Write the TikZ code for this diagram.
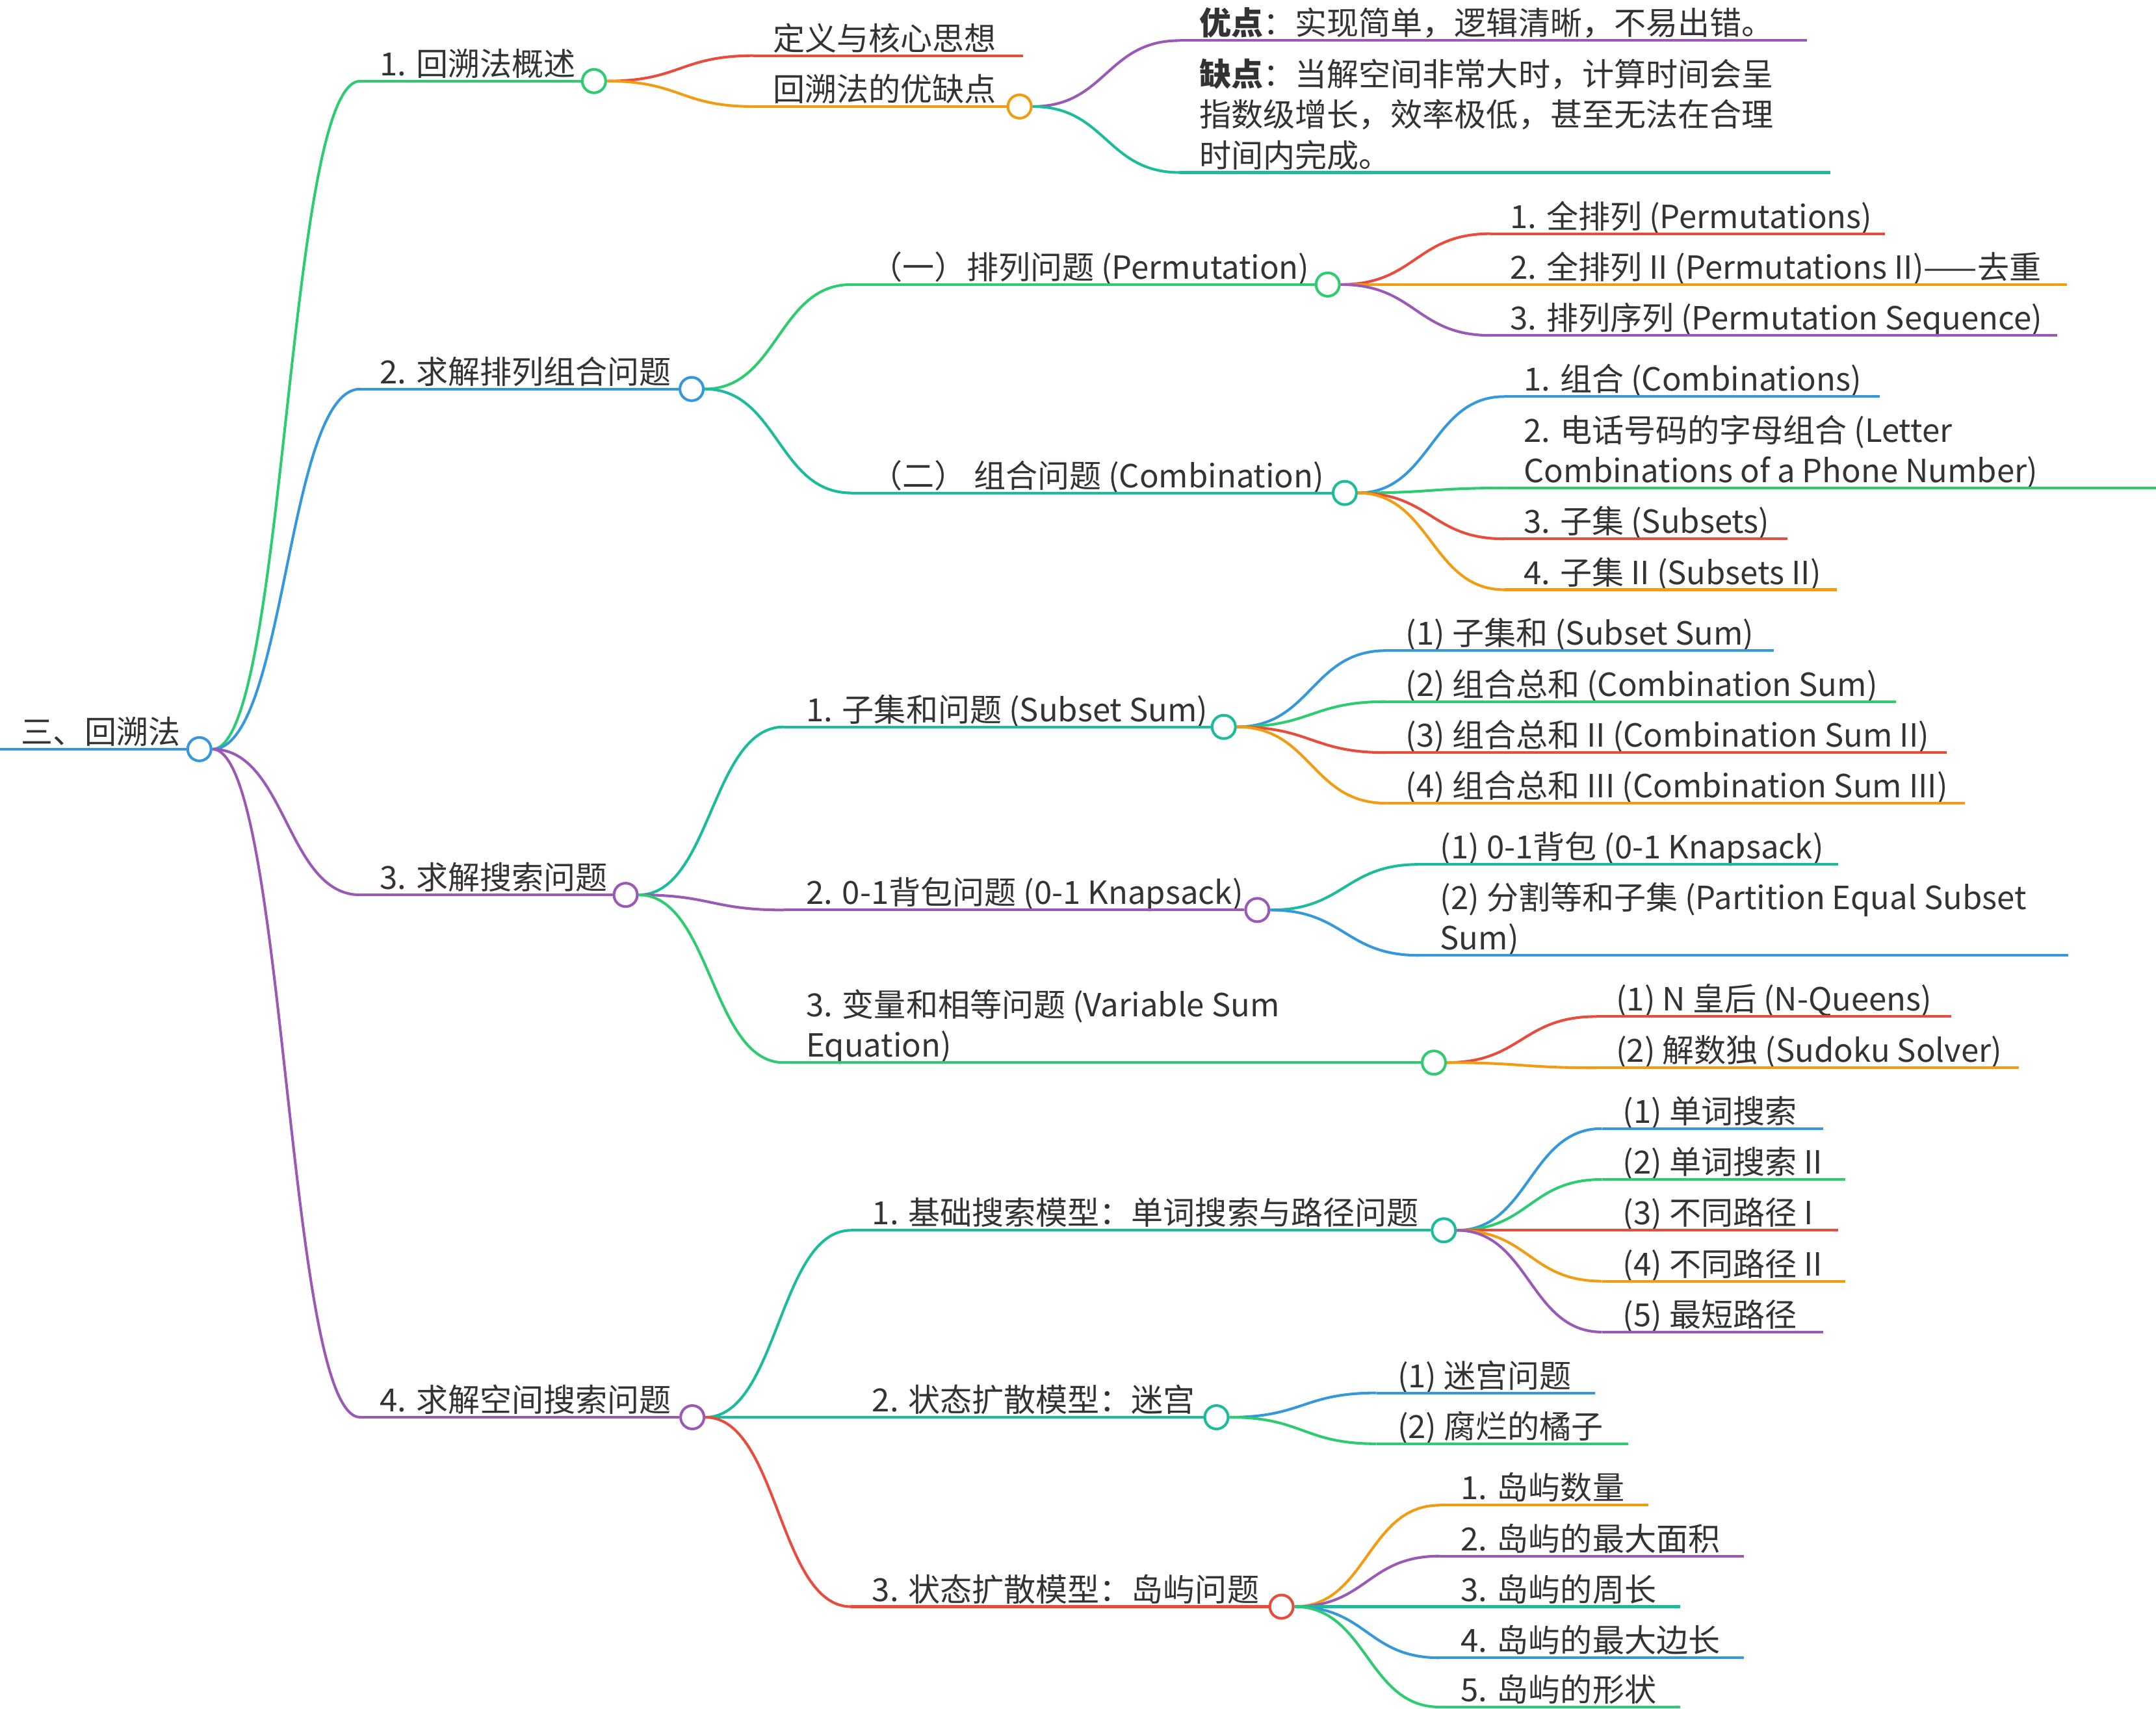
\documentclass[tikz,border=0pt]{standalone}
\usepackage{fontspec}
\setmainfont{Noto Sans CJK SC}
\usepackage{xcolor}
\usepackage{tikz}
\usetikzlibrary{calc}

\definecolor{ink}{HTML}{333333}
\definecolor{mmgreen}{HTML}{2ECC71}
\definecolor{mmteal}{HTML}{1ABC9C}
\definecolor{mmblue}{HTML}{3498DB}
\definecolor{mmpurple}{HTML}{9B59B6}
\definecolor{mmred}{HTML}{E74C3C}
\definecolor{mmorange}{HTML}{F39C12}

\begin{document}
\begin{tikzpicture}[
  x=0.02cm, y=-0.02cm,
  txt/.style={
    anchor=base west,
    inner sep=0pt,
    text=ink,
    font=\fontsize{13.2}{16.7}\selectfont
  },
  txtml/.style={txt, align=left},
  dot/.style={
    circle,
    draw,
    fill=white,
    line width=1.1pt,
    minimum size=0.34cm,
    inner sep=0pt
  },
  wire/.style={line width=1.1pt},
  link/.style={to path={let \p1=(\tikztostart), \p2=(\tikztotarget) in
    .. controls ({(\x1+\x2)/2},\y1) and ({(\x1+\x2)/2},\y2) .. (\tikztotarget)}},
  curl/.style={line width=1.1pt, link}
]
\useasboundingbox (0,0) rectangle (1568,1243);

% root
\coordinate (root-s) at (0,545);
\node[dot, draw=mmblue] (rootdot) at (145,545) {};
\node[txt] (root) at ([shift={(15,-4)}]root-s) {三、回溯法};
\draw[wire, mmblue] (root-s) -- (rootdot.west);

% first level
\coordinate (s1-s) at (262,59);
\coordinate (s2-s) at (262,283);
\coordinate (s3-s) at (262,651);
\coordinate (s4-s) at (262,1031);
\node[dot, draw=mmgreen] (s1dot) at (432,59) {};
\node[dot, draw=mmblue] (s2dot) at (503,283) {};
\node[dot, draw=mmpurple] (s3dot) at (455,651) {};
\node[dot, draw=mmpurple] (s4dot) at (503.5,1031) {};
\node[txt] (s1) at ([shift={(14,-4)}]s1-s) {1. 回溯法概述};
\node[txt] (s2) at ([shift={(14,-4)}]s2-s) {2. 求解排列组合问题};
\node[txt] (s3) at ([shift={(14,-4)}]s3-s) {3. 求解搜索问题};
\node[txt] (s4) at ([shift={(14,-4)}]s4-s) {4. 求解空间搜索问题};
\draw[wire, mmgreen] (rootdot.east) edge[curl] (s1-s) (s1-s) -- (s1dot.west);
\draw[wire, mmblue] (rootdot.east) edge[curl] (s2-s) (s2-s) -- (s2dot.west);
\draw[wire, mmpurple] (rootdot.east) edge[curl] (s3-s) (s3-s) -- (s3dot.west);
\draw[wire, mmpurple] (rootdot.east) edge[curl] (s4-s) (s4-s) -- (s4dot.west);

% 1. overview
\coordinate (def-s) at (548,40.5);  \coordinate (def-e) at (744,40.5);
\coordinate (pros-s) at (548,77.5);
\node[dot, draw=mmorange] (prosdot) at (741.5,77.5) {};
\node[txt] (def) at ([shift={(14,-4)}]def-s) {定义与核心思想};
\node[txt] (pros) at ([shift={(14,-4)}]pros-s) {回溯法的优缺点};
\draw[wire, mmred] (s1dot.east) edge[curl] (def-s) (def-s) -- (def-e);
\draw[wire, mmorange] (s1dot.east) edge[curl] (pros-s) (pros-s) -- (prosdot.west);

\coordinate (good-s) at (858,29.5);  \coordinate (good-e) at (1314,29.5);
\coordinate (bad-s) at (858,125.5);  \coordinate (bad-e) at (1331,125.5);
\node[txt] (good) at ([shift={(14,-4)}]good-s) {\textbf{优点}：实现简单，逻辑清晰，不易出错。};
\node[txtml] (bad) at ([shift={(14,-4)}]bad-s)
  {\textbf{缺点}：当解空间非常大时，计算时间会呈\\指数级增长，效率极低，甚至无法在合理\\时间内完成。};
\draw[wire, mmpurple] (prosdot.east) edge[curl] (good-s) (good-s) -- (good-e);
\draw[wire, mmteal] (prosdot.east) edge[curl] (bad-s) (bad-s) -- (bad-e);

% 2. permutations and combinations
\coordinate (perm-s) at (619,207);
\coordinate (comb-s) at (619,358.6);
\node[dot, draw=mmgreen] (permdot) at (965.6,207) {};
\node[dot, draw=mmteal] (combdot) at (978,358.6) {};
\node[txt] (perm) at ([shift={(14,-4)}]perm-s) {（一）排列问题 (Permutation)};
\node[txt] (comb) at ([shift={(14,-4)}]comb-s) {（二） 组合问题 (Combination)};
\draw[wire, mmgreen] (s2dot.east) edge[curl] (perm-s) (perm-s) -- (permdot.west);
\draw[wire, mmteal] (s2dot.east) edge[curl] (comb-s) (comb-s) -- (combdot.west);

\coordinate (p1-s) at (1084,170);  \coordinate (p1-e) at (1371,170);
\coordinate (p2-s) at (1084,207);  \coordinate (p2-e) at (1503,207);
\coordinate (p3-s) at (1084,244);  \coordinate (p3-e) at (1496,244);
\node[txt] (p1) at ([shift={(14,-4)}]p1-s) {1. 全排列 (Permutations)};
\node[txt] (p2) at ([shift={(14,-4)}]p2-s) {2. 全排列 II (Permutations II)——去重};
\node[txt] (p3) at ([shift={(14,-4)}]p3-s) {3. 排列序列 (Permutation Sequence)};
\draw[wire, mmred] (permdot.east) edge[curl] (p1-s) (p1-s) -- (p1-e);
\draw[wire, mmorange] (permdot.east) edge[curl] (p2-s) (p2-s) -- (p2-e);
\draw[wire, mmpurple] (permdot.east) edge[curl] (p3-s) (p3-s) -- (p3-e);

\coordinate (c1-s) at (1094,288.5);  \coordinate (c1-e) at (1367,288.5);
\coordinate (c2-s) at (1094,355);    \coordinate (c2-e) at (1568,355);
\coordinate (c3-s) at (1094,392);    \coordinate (c3-e) at (1300,392);
\coordinate (c4-s) at (1094,429);    \coordinate (c4-e) at (1336,429);
\node[txt] (c1) at ([shift={(14,-4)}]c1-s) {1. 组合 (Combinations)};
\node[txtml] (c2) at ([shift={(14,-4)}]c2-s) {2. 电话号码的字母组合 (Letter\\Combinations of a Phone Number)};
\node[txt] (c3) at ([shift={(14,-4)}]c3-s) {3. 子集 (Subsets)};
\node[txt] (c4) at ([shift={(14,-4)}]c4-s) {4. 子集 II (Subsets II)};
\draw[wire, mmblue] (combdot.east) edge[curl] (c1-s) (c1-s) -- (c1-e);
\draw[wire, mmgreen] (combdot.east) edge[curl] (c2-s) (c2-s) -- (c2-e);
\draw[wire, mmred] (combdot.east) edge[curl] (c3-s) (c3-s) -- (c3-e);
\draw[wire, mmorange] (combdot.east) edge[curl] (c4-s) (c4-s) -- (c4-e);

% 3. search problems
\coordinate (sub-s) at (570,528.8);
\coordinate (knap-s) at (570,662);
\coordinate (var-s) at (570,773);
\node[dot, draw=mmteal] (subdot) at (890,528.8) {};
\node[dot, draw=mmpurple] (knapdot) at (914.4,662) {};
\node[dot, draw=mmgreen] (vardot) at (1042.8,773) {};
\node[txt] (sub) at ([shift={(16,-4)}]sub-s) {1. 子集和问题 (Subset Sum)};
\node[txt] (knap) at ([shift={(16,-4)}]knap-s) {2. 0-1背包问题 (0-1 Knapsack)};
\node[txtml] (var) at ([shift={(16,-4)}]var-s) {3. 变量和相等问题 (Variable Sum\\Equation)};
\draw[wire, mmteal] (s3dot.east) edge[curl] (sub-s) (sub-s) -- (subdot.west);
\draw[wire, mmpurple] (s3dot.east) edge[curl] (knap-s) (knap-s) -- (knapdot.west);
\draw[wire, mmgreen] (s3dot.east) edge[curl] (var-s) (var-s) -- (vardot.west);

\coordinate (ss1-s) at (1008,473.3);  \coordinate (ss1-e) at (1290,473.3);
\coordinate (ss2-s) at (1008,510.4);  \coordinate (ss2-e) at (1379,510.4);
\coordinate (ss3-s) at (1008,547.5);  \coordinate (ss3-e) at (1416,547.5);
\coordinate (ss4-s) at (1008,584.3);  \coordinate (ss4-e) at (1429,584.3);
\node[txt] (ss1) at ([shift={(14,-4)}]ss1-s) {(1) 子集和 (Subset Sum)};
\node[txt] (ss2) at ([shift={(14,-4)}]ss2-s) {(2) 组合总和 (Combination Sum)};
\node[txt] (ss3) at ([shift={(14,-4)}]ss3-s) {(3) 组合总和 II (Combination Sum II)};
\node[txt] (ss4) at ([shift={(14,-4)}]ss4-s) {(4) 组合总和 III (Combination Sum III)};
\draw[wire, mmblue] (subdot.east) edge[curl] (ss1-s) (ss1-s) -- (ss1-e);
\draw[wire, mmgreen] (subdot.east) edge[curl] (ss2-s) (ss2-s) -- (ss2-e);
\draw[wire, mmred] (subdot.east) edge[curl] (ss3-s) (ss3-s) -- (ss3-e);
\draw[wire, mmorange] (subdot.east) edge[curl] (ss4-s) (ss4-s) -- (ss4-e);

\coordinate (k1-s) at (1032,628.8);  \coordinate (k1-e) at (1337,628.8);
\coordinate (k2-s) at (1032,695);    \coordinate (k2-e) at (1504,695);
\node[txt] (k1) at ([shift={(15,-4)}]k1-s) {(1) 0-1背包 (0-1 Knapsack)};
\node[txtml] (k2) at ([shift={(15,-4)}]k2-s) {(2) 分割等和子集 (Partition Equal Subset\\Sum)};
\draw[wire, mmteal] (knapdot.east) edge[curl] (k1-s) (k1-s) -- (k1-e);
\draw[wire, mmblue] (knapdot.east) edge[curl] (k2-s) (k2-s) -- (k2-e);

\coordinate (v1-s) at (1161,739.5);  \coordinate (v1-e) at (1419,739.5);
\coordinate (v2-s) at (1161,776.8);  \coordinate (v2-e) at (1468,776.8);
\node[txt] (v1) at ([shift={(14,-4)}]v1-s) {(1) N 皇后 (N-Queens)};
\node[txt] (v2) at ([shift={(14,-4)}]v2-s) {(2) 解数独 (Sudoku Solver)};
\draw[wire, mmred] (vardot.east) edge[curl] (v1-s) (v1-s) -- (v1-e);
\draw[wire, mmorange] (vardot.east) edge[curl] (v2-s) (v2-s) -- (v2-e);

% 4. space search problems
\coordinate (grid-s) at (619,895);
\coordinate (maze-s) at (619,1031);
\coordinate (isl-s) at (619,1168.8);
\node[dot, draw=mmteal] (griddot) at (1050,895) {};
\node[dot, draw=mmteal] (mazedot) at (884.7,1031) {};
\node[dot, draw=mmred] (isldot) at (932,1168.8) {};
\node[txt] (grid) at ([shift={(15,-4)}]grid-s) {1. 基础搜索模型：单词搜索与路径问题};
\node[txt] (maze) at ([shift={(15,-4)}]maze-s) {2. 状态扩散模型：迷宫};
\node[txt] (isl) at ([shift={(15,-4)}]isl-s) {3. 状态扩散模型：岛屿问题};
\draw[wire, mmteal] (s4dot.east) edge[curl] (grid-s) (grid-s) -- (griddot.west);
\draw[wire, mmteal] (s4dot.east) edge[curl] (maze-s) (maze-s) -- (mazedot.west);
\draw[wire, mmred] (s4dot.east) edge[curl] (isl-s) (isl-s) -- (isldot.west);

\coordinate (g1-s) at (1165,821);  \coordinate (g1-e) at (1326,821);
\coordinate (g2-s) at (1165,858);  \coordinate (g2-e) at (1342,858);
\coordinate (g3-s) at (1165,895);  \coordinate (g3-e) at (1337,895);
\coordinate (g4-s) at (1165,932);  \coordinate (g4-e) at (1342,932);
\coordinate (g5-s) at (1165,969);  \coordinate (g5-e) at (1326,969);
\node[txt] (g1) at ([shift={(15,-4)}]g1-s) {(1) 单词搜索};
\node[txt] (g2) at ([shift={(15,-4)}]g2-s) {(2) 单词搜索 II};
\node[txt] (g3) at ([shift={(15,-4)}]g3-s) {(3) 不同路径 I};
\node[txt] (g4) at ([shift={(15,-4)}]g4-s) {(4) 不同路径 II};
\node[txt] (g5) at ([shift={(15,-4)}]g5-s) {(5) 最短路径};
\draw[wire, mmblue] (griddot.east) edge[curl] (g1-s) (g1-s) -- (g1-e);
\draw[wire, mmgreen] (griddot.east) edge[curl] (g2-s) (g2-s) -- (g2-e);
\draw[wire, mmred] (griddot.east) edge[curl] (g3-s) (g3-s) -- (g3-e);
\draw[wire, mmorange] (griddot.east) edge[curl] (g4-s) (g4-s) -- (g4-e);
\draw[wire, mmpurple] (griddot.east) edge[curl] (g5-s) (g5-s) -- (g5-e);

\coordinate (m1-s) at (1001,1013.3);  \coordinate (m1-e) at (1160,1013.3);
\coordinate (m2-s) at (1001,1050.3);  \coordinate (m2-e) at (1184,1050.3);
\node[txt] (m1) at ([shift={(15,-4)}]m1-s) {(1) 迷宫问题};
\node[txt] (m2) at ([shift={(15,-4)}]m2-s) {(2) 腐烂的橘子};
\draw[wire, mmblue] (mazedot.east) edge[curl] (m1-s) (m1-s) -- (m1-e);
\draw[wire, mmgreen] (mazedot.east) edge[curl] (m2-s) (m2-s) -- (m2-e);

\coordinate (i1-s) at (1047,1095);    \coordinate (i1-e) at (1199,1095);
\coordinate (i2-s) at (1047,1132);    \coordinate (i2-e) at (1268.5,1132);
\coordinate (i3-s) at (1047,1168.8);  \coordinate (i3-e) at (1222,1168.8);
\coordinate (i4-s) at (1047,1206);    \coordinate (i4-e) at (1268.5,1206);
\coordinate (i5-s) at (1047,1241.8);  \coordinate (i5-e) at (1222,1241.8);
\node[txt] (i1) at ([shift={(15,-4)}]i1-s) {1. 岛屿数量};
\node[txt] (i2) at ([shift={(15,-4)}]i2-s) {2. 岛屿的最大面积};
\node[txt] (i3) at ([shift={(15,-4)}]i3-s) {3. 岛屿的周长};
\node[txt] (i4) at ([shift={(15,-4)}]i4-s) {4. 岛屿的最大边长};
\node[txt] (i5) at ([shift={(15,-4)}]i5-s) {5. 岛屿的形状};
\draw[wire, mmorange] (isldot.east) edge[curl] (i1-s) (i1-s) -- (i1-e);
\draw[wire, mmpurple] (isldot.east) edge[curl] (i2-s) (i2-s) -- (i2-e);
\draw[wire, mmteal] (isldot.east) edge[curl] (i3-s) (i3-s) -- (i3-e);
\draw[wire, mmblue] (isldot.east) edge[curl] (i4-s) (i4-s) -- (i4-e);
\draw[wire, mmgreen] (isldot.east) edge[curl] (i5-s) (i5-s) -- (i5-e);
\end{tikzpicture}
\end{document}
